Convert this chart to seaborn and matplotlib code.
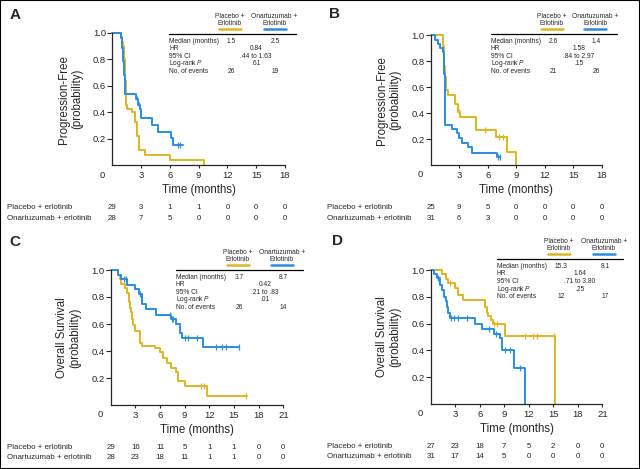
import matplotlib
matplotlib.use('Agg')
import matplotlib.pyplot as plt
import matplotlib.transforms as mtransforms
from matplotlib.lines import Line2D
from matplotlib.patches import Rectangle
import seaborn as sns

# Estilo base
sns.set_style('ticks')
plt.rcParams['font.family'] = ['Liberation Sans', 'DejaVu Sans']
plt.rcParams['mathtext.fontset'] = 'custom'
plt.rcParams['mathtext.it'] = 'Liberation Sans:italic'
plt.rcParams['mathtext.rm'] = 'Liberation Sans'

YELLOW = '#DDB526'
BLUE = '#2D8CDC'

# ---------------- Datos (curvas Kaplan-Meier) ----------------
# Panel A: PFS
a_pla_t = [0, 0.9, 1.0, 1.1, 1.2, 1.25, 1.3, 1.35, 1.4, 1.45, 1.55, 2.1, 2.4, 2.6, 2.8, 3.4, 6.0, 9.6]
a_pla_s = [1.0, 0.97, 0.93, 0.9, 0.86, 0.8, 0.72, 0.64, 0.54, 0.46, 0.43, 0.40, 0.33, 0.22, 0.12, 0.08, 0.04, 0.0]
a_pla_ct = [1.27, 1.32]
a_pla_cs = [0.8, 0.72]
a_ona_t = [0, 0.9, 1.05, 1.15, 1.25, 1.35, 2.5, 2.7, 2.85, 3.0, 4.1, 4.8, 6.1, 6.35, 7.35]
a_ona_s = [1.0, 0.96, 0.89, 0.79, 0.68, 0.54, 0.50, 0.46, 0.43, 0.355, 0.305, 0.25, 0.205, 0.155, 0.155]
a_ona_ct = [2.6, 2.78, 6.85, 7.1]
a_ona_cs = [0.5, 0.46, 0.155, 0.155]

# Panel B: PFS
b_pla_t = [0, 1.33, 1.4, 1.45, 1.5, 1.6, 1.82, 2.6, 2.85, 3.1, 4.8, 6.85, 8.05, 8.95]
b_pla_s = [1.0, 0.92, 0.84, 0.76, 0.68, 0.58, 0.54, 0.47, 0.41, 0.37, 0.275, 0.22, 0.105, 0.0]
b_pla_ct = [2.95, 5.7, 7.2, 7.6]
b_pla_cs = [0.41, 0.275, 0.22, 0.22]
b_ona_t = [0, 0.45, 0.8, 1.0, 1.3, 1.45, 1.5, 1.55, 2.2, 2.8, 3.0, 3.3, 3.95, 4.3, 7.0, 7.3]
b_ona_s = [1.0, 0.965, 0.93, 0.9, 0.87, 0.7, 0.5, 0.31, 0.28, 0.245, 0.21, 0.175, 0.14, 0.097, 0.065, 0.065]
b_ona_ct = [7.1, 7.25]
b_ona_cs = [0.065, 0.065]

# Panel C: OS
c_pla_t = [0, 0.83, 1.1, 1.24, 1.76, 1.97, 2.17, 2.35, 2.45, 2.57, 2.77, 2.98, 3.58, 3.79,
           5.4, 6.0, 6.4, 6.8, 7.3, 7.96, 8.24, 9.05, 11.77, 16.6]
c_pla_s = [1.0, 0.965, 0.93, 0.9, 0.87, 0.83, 0.76, 0.72, 0.69, 0.64, 0.59, 0.55, 0.46, 0.44,
           0.42, 0.39, 0.35, 0.31, 0.275, 0.245, 0.18, 0.14, 0.067, 0.067]
c_pla_ct = [11.0, 11.36, 16.5]
c_pla_cs = [0.14, 0.14, 0.067]
c_ona_t = [0, 0.83, 1.3, 2.04, 2.98, 3.5, 3.79, 4.27, 5.53, 7.3, 7.96, 8.44, 8.65, 11.2, 15.65]
c_ona_s = [1.0, 0.965, 0.93, 0.89, 0.857, 0.82, 0.75, 0.71, 0.67, 0.64, 0.6, 0.53, 0.5, 0.43, 0.43]
c_ona_ct = [1.56, 1.9, 3.6, 7.2, 7.43, 7.63, 9.05, 9.4, 10.47, 12.8, 13.5, 14.0, 15.55]
c_ona_cs = [0.93, 0.93, 0.82, 0.67, 0.64, 0.64, 0.5, 0.5, 0.5, 0.43, 0.43, 0.43, 0.43]

# Panel D: OS
d_pla_t = [0, 1.34, 1.83, 2.08, 2.97, 3.38, 4.0, 6.65, 6.85, 7.05, 7.35, 7.67, 9.09, 15.21]
d_pla_s = [1.0, 0.968, 0.933, 0.9, 0.863, 0.813, 0.776, 0.726, 0.68, 0.655, 0.627, 0.597, 0.51, 0.0]
d_pla_ct = [2.36, 7.8, 8.1, 11.54, 12.56, 12.97, 15.1]
d_pla_cs = [0.9, 0.597, 0.597, 0.51, 0.51, 0.51, 0.51]
d_ona_t = [0, 0.45, 0.73, 1.14, 1.42, 1.67, 1.83, 1.95, 2.16, 2.36, 5.4, 6.3, 7.75, 8.48, 8.69, 10.25, 11.6]
d_ona_s = [1.0, 0.97, 0.94, 0.888, 0.85, 0.8, 0.765, 0.726, 0.677, 0.64, 0.595, 0.557, 0.52, 0.49, 0.403, 0.27, 0.0]
d_ona_ct = [0.93, 2.45, 2.85, 3.38, 4.48, 7.17, 7.99, 9.09, 9.7, 10.9]
d_ona_cs = [0.94, 0.64, 0.64, 0.64, 0.64, 0.557, 0.52, 0.403, 0.403, 0.27]

# Pacientes en riesgo
risk_t_pfs = [0, 3, 6, 9, 12, 15, 18]
risk_t_os = [0, 3, 6, 9, 12, 15, 18, 21]
a_risk_pla = [29, 3, 1, 1, 0, 0, 0]
a_risk_ona = [28, 7, 5, 0, 0, 0, 0]
b_risk_pla = [25, 9, 5, 0, 0, 0, 0]
b_risk_ona = [31, 6, 3, 0, 0, 0, 0]
c_risk_pla = [29, 16, 11, 5, 1, 1, 0, 0]
c_risk_ona = [28, 23, 18, 11, 1, 1, 0, 0]
d_risk_pla = [27, 23, 18, 7, 5, 2, 0, 0]
d_risk_ona = [31, 17, 14, 5, 0, 0, 0, 0]

# Tablas de estadísticos
a_median = ['1.5', '2.5']
a_hr, a_ci, a_p = '0.84', '.44 to 1.63', '.61'
a_events = ['26', '19']
b_median = ['2.6', '1.4']
b_hr, b_ci, b_p = '1.58', '.84 to 2.97', '.15'
b_events = ['21', '26']
c_median = ['3.7', '8.7']
c_hr, c_ci, c_p = '0.42', '.21 to .83', '.01'
c_events = ['26', '14']
d_median = ['15.3', '8.1']
d_hr, d_ci, d_p = '1.64', '.71 to 3.80', '.25'
d_events = ['12', '17']

# ---------------- Figura ----------------
W, H = 640, 469
fig = plt.figure(figsize=(W / 100, H / 100), dpi=100)


def px_text(x, y, s, **kw):
    fig.text(x / W, 1 - y / H, s, **kw)


def px_line(x0, x1, y, **kw):
    fig.add_artist(Line2D([x0 / W, x1 / W], [1 - y / H] * 2, transform=fig.transFigure, **kw))


def km_axes(left, right, top, bottom, xmax, ylabel):
    ax = fig.add_axes([left / W, 1 - bottom / H, (right - left) / W, (bottom - top) / H])
    ax.set_xlim(0, xmax)
    ax.set_ylim(0, 1.0)
    sns.despine(ax=ax)
    for sp in ('left', 'bottom'):
        ax.spines[sp].set_linewidth(0.9)
    ax.set_xticks(list(range(3, xmax + 1, 3)))
    ax.set_yticks([0.2, 0.4, 0.6, 0.8, 1.0])
    ax.set_yticklabels(['0.2', '0.4', '0.6', '0.8', '1.0'])
    ax.tick_params(axis='x', length=2.5, width=0.8, pad=1.5, labelsize=6.8)
    ax.tick_params(axis='y', length=3.5, width=0.8, pad=1.0, labelsize=6.8)
    ax.annotate('0', xy=(0, 0), xycoords='axes fraction', xytext=(-10, -9.5),
                textcoords='offset pixels', ha='center', va='center', fontsize=6.8)
    ax.set_xlabel('Time (months)', fontsize=8.3, labelpad=3)
    ax.set_ylabel(ylabel, fontsize=8.3, labelpad=7, linespacing=1.15)
    return ax


def km_curve(ax, t, s, ct, cs, color):
    sns.lineplot(x=t, y=s, ax=ax, color=color, lw=1.4, drawstyle='steps-post',
                 estimator=None, sort=False, clip_on=False)
    ax.plot(ct, cs, linestyle='none', marker='|', color=color, ms=5, mew=0.9, clip_on=False)


def risk_table(ax, label_x, y1, y2, times, pla, ona):
    tr = mtransforms.blended_transform_factory(ax.transData, fig.transFigure)
    px_text(label_x, y1, 'Placebo + erlotinib', fontsize=5.7, va='center')
    px_text(label_x, y2, 'Onartuzumab + erlotinib', fontsize=5.7, va='center')
    for t, n1, n2 in zip(times, pla, ona):
        ax.text(t, 1 - y1 / H, str(n1), transform=tr, fontsize=5.7, ha='center', va='center', clip_on=False)
        ax.text(t, 1 - y2 / H, str(n2), transform=tr, fontsize=5.7, ha='center', va='center', clip_on=False)


def stats_table(line_y, x0, x1, col1, col2, mid, median, hr, ci, p, events):
    fs = 4.8
    kw = dict(fontsize=fs, ha='center', va='center')
    for hx, color in ((col1 - 2, YELLOW), (col2 - 1, BLUE)):
        px_line(hx - 11, hx + 11, line_y - 4.7, color=color, lw=1.8)
    px_text(col1 - 2, line_y - 17.5, 'Placebo +', **kw)
    px_text(col1 - 2, line_y - 10, 'Erlotinib', **kw)
    px_text(col2 - 1, line_y - 17.5, 'Onartuzumab +', **kw)
    px_text(col2 - 1, line_y - 10, 'Erlotinib', **kw)
    px_line(x0, x1, line_y, color='black', lw=0.9)
    labels = ['Median (months)', 'HR', '95% CI', 'Log-rank $P$', 'No. of events']
    rows_y = [line_y + 7.4 + 7.55 * i for i in range(5)]
    for lab, y in zip(labels, rows_y):
        px_text(x0, y, lab, fontsize=fs, va='center')
    px_text(col1, rows_y[0], median[0], **kw)
    px_text(col2, rows_y[0], median[1], **kw)
    px_text(mid, rows_y[1], hr, **kw)
    px_text(mid, rows_y[2], ci, **kw)
    px_text(mid, rows_y[3], p, **kw)
    px_text(col1, rows_y[4], events[0], **kw)
    px_text(col2, rows_y[4], events[1], **kw)


# Panel A
ax_a = km_axes(112.3, 285, 33, 165.5, 18, 'Progression-Free\n(probability)')
km_curve(ax_a, a_pla_t, a_pla_s, a_pla_ct, a_pla_cs, YELLOW)
km_curve(ax_a, a_ona_t, a_ona_s, a_ona_ct, a_ona_cs, BLUE)
risk_table(ax_a, 7.3, 207.5, 218.3, risk_t_pfs, a_risk_pla, a_risk_ona)
stats_table(33.7, 169.3, 296, 231.5, 275.5, 256, a_median, a_hr, a_ci, a_p, a_events)

# Panel B
ax_b = km_axes(430.7, 601.7, 35.3, 165.3, 18, 'Progression-Free\n(probability)')
km_curve(ax_b, b_pla_t, b_pla_s, b_pla_ct, b_pla_cs, YELLOW)
km_curve(ax_b, b_ona_t, b_ona_s, b_ona_ct, b_ona_cs, BLUE)
risk_table(ax_b, 326.7, 207.3, 218, risk_t_pfs, b_risk_pla, b_risk_ona)
stats_table(33.7, 490.7, 617.3, 553.5, 596.3, 579, b_median, b_hr, b_ci, b_p, b_events)

# Panel C
ax_c = km_axes(110.7, 283.3, 270, 405, 21, 'Overall Survival\n(probability)')
km_curve(ax_c, c_pla_t, c_pla_s, c_pla_ct, c_pla_cs, YELLOW)
km_curve(ax_c, c_ona_t, c_ona_s, c_ona_ct, c_ona_cs, BLUE)
risk_table(ax_c, 7.3, 447.3, 457.7, risk_t_os, c_risk_pla, c_risk_ona)
stats_table(269.7, 175.7, 302.7, 239.5, 283, 265, c_median, c_hr, c_ci, c_p, c_events)

# Panel D
ax_d = km_axes(430.7, 602.3, 270, 404, 21, 'Overall Survival\n(probability)')
km_curve(ax_d, d_pla_t, d_pla_s, d_pla_ct, d_pla_cs, YELLOW)
km_curve(ax_d, d_ona_t, d_ona_s, d_ona_ct, d_ona_cs, BLUE)
risk_table(ax_d, 326.7, 446.7, 456.7, risk_t_os, d_risk_pla, d_risk_ona)
stats_table(259, 496.7, 623.3, 560.7, 605, 580, d_median, d_hr, d_ci, d_p, d_events)

# Letras de los paneles
for x, y, letter in ((9.3, 14.7, 'A'), (329.3, 14.5, 'B'), (9.3, 241.7, 'C'), (331.7, 241.3, 'D')):
    px_text(x, y, letter, fontsize=11, fontweight='bold', va='center')

# Marco exterior
fig.patches.append(Rectangle((0, 0), 1, 1, transform=fig.transFigure, fill=False,
                             edgecolor='black', lw=1.5))

fig.savefig('out.png', dpi=100)
